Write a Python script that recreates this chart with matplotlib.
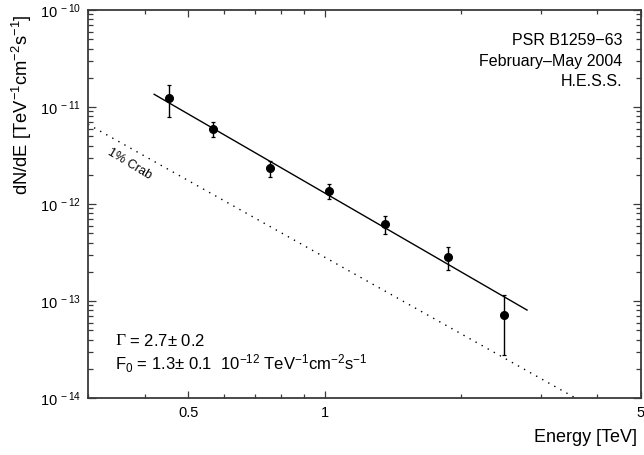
import matplotlib
matplotlib.use("Agg")
import matplotlib.pyplot as plt
import numpy as np
from matplotlib.ticker import FixedLocator, NullFormatter, FuncFormatter

plt.rcParams['font.family'] = ['Liberation Sans', 'DejaVu Sans']
plt.rcParams['mathtext.fontset'] = 'custom'
plt.rcParams['mathtext.rm'] = 'Liberation Sans'
plt.rcParams['mathtext.it'] = 'Liberation Sans:italic'
plt.rcParams['mathtext.bf'] = 'Liberation Sans:bold'

# Data
energy = [0.452, 0.566, 0.757, 1.022, 1.359, 1.870, 2.485]
flux = [1.25e-11, 5.97e-12, 2.37e-12, 1.36e-12, 6.22e-13, 2.86e-13, 7.13e-14]
flux_hi = [1.70e-11, 6.95e-12, 2.79e-12, 1.60e-12, 7.57e-13, 3.63e-13, 1.15e-13]
flux_lo = [7.83e-12, 4.94e-12, 1.90e-12, 1.12e-12, 4.91e-13, 2.09e-13, 2.75e-14]

# Power-law fit
fit_F0 = 1.3e-12
fit_gamma = 2.7
fit_range = [0.42, 2.8]

# 1% Crab reference spectrum
crab_norm = 2.83e-13
crab_index = 2.62
crab_range = [0.3, 3.6]

x_major = [0.5, 1, 5]
x_major_labels = ['0.5', '1', '5']
x_minor = [0.3, 0.4, 0.6, 0.7, 0.8, 0.9, 2, 3, 4]

fig = plt.figure(figsize=(6.44, 4.55), dpi=100)
ax = fig.add_axes([88/644, 57/455, (641-88)/644, (398-10)/455])

E = np.array(energy)
F = np.array(flux)
yerr = [F - np.array(flux_lo), np.array(flux_hi) - F]
ax.errorbar(E, F, yerr=yerr, fmt='o', color='black', ms=5.5, elinewidth=1.0,
            capsize=1.6, capthick=0.9, zorder=3)

ef = np.geomspace(fit_range[0], fit_range[1], 50)
ax.plot(ef, fit_F0 * ef ** (-fit_gamma), color='black', lw=1.0)

ec = np.geomspace(crab_range[0], crab_range[1], 100)
ax.plot(ec, crab_norm * ec ** (-crab_index), color='black', lw=1.0,
        linestyle=(0, (1, 4)))

ax.set_xscale('log')
ax.set_yscale('log')
ax.set_xlim(0.3, 5)
ax.set_ylim(1e-14, 1e-10)

ax.xaxis.set_major_locator(FixedLocator(x_major))
ax.xaxis.set_major_formatter(FuncFormatter(
    lambda v, p: dict(zip(x_major, x_major_labels)).get(v, '')))
ax.xaxis.set_minor_locator(FixedLocator(x_minor))
ax.xaxis.set_minor_formatter(NullFormatter())

yd = [1e-14, 1e-13, 1e-12, 1e-11, 1e-10]
ax.yaxis.set_major_locator(FixedLocator(yd))
ax.yaxis.set_major_formatter(FuncFormatter(
    lambda v, p: r'$10^{\;%d}$' % int(round(np.log10(v)))))
ym = [m * 10.0 ** k for k in range(-14, -10) for m in range(2, 10)]
ax.yaxis.set_minor_locator(FixedLocator(ym))
ax.yaxis.set_minor_formatter(NullFormatter())

frame_c = '#3a3a3a'
for s in ax.spines.values():
    s.set_color(frame_c)
    s.set_linewidth(1.3)
ax.tick_params(which='both', direction='in', top=True, right=True,
               color=frame_c, width=0.9)
ax.tick_params(axis='x', which='major', length=5, pad=6, labelsize=10.5)
ax.tick_params(axis='x', which='minor', length=3)
ax.tick_params(axis='y', which='major', length=6, pad=5, labelsize=10.5)
ax.tick_params(axis='y', which='minor', length=3.5)

ax.set_ylabel(r'dN/dE [TeV$^{-1}$cm$^{-2}$s$^{-1}$]', fontsize=13.2)
ax.yaxis.set_label_coords(-0.098, 0.755)
fig.text(637/644, 1 - 437/455, 'Energy [TeV]', ha='right', va='center', fontsize=13)

for txt, yy in zip(['PSR B1259\u221263', 'February\u2013May 2004', 'H.E.S.S.'],
                   [40.5, 61.5, 81.5]):
    fig.text(622/644, 1 - yy/455, txt, ha='right', va='center', fontsize=11.5)

g = fig.text(115/644, 1 - 341/455, '\u0393', ha='left', va='center',
             fontsize=12.5, family='Liberation Serif')
ax.annotate(r' = 2.7$\pm$ 0.2', xy=(1.0, 0.5), xycoords=g, ha='left',
            va='center', fontsize=12)
fig.text(115/644, 1 - 364/455,
         r'F$_0$ = 1.3$\pm$ 0.1  10$^{-12}$ TeV$^{-1}$cm$^{-2}$s$^{-1}$',
         ha='left', va='center', fontsize=12)

fig.text(130/644, 1 - 164/455, '1% Crab', ha='center', va='center',
         fontsize=9, rotation=-31)

fig.savefig('out.png', dpi=100)
